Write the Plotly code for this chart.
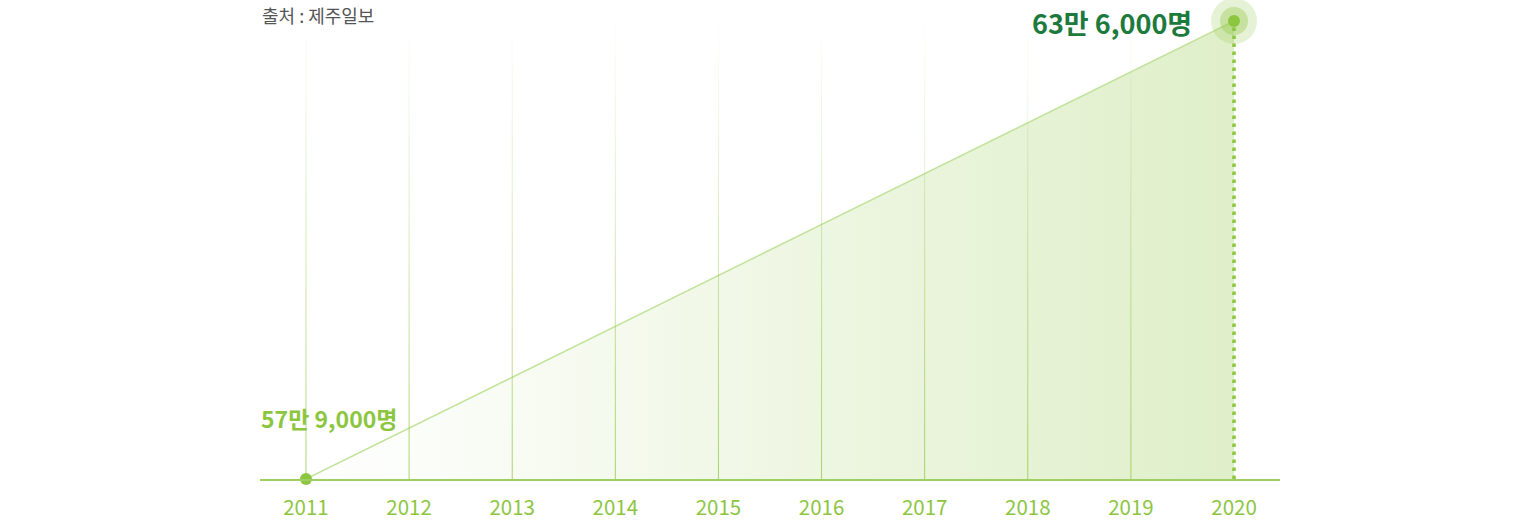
import plotly.graph_objects as go

years = [2011, 2012, 2013, 2014, 2015, 2016, 2017, 2018, 2019, 2020]
point_years = [2011, 2020]
visitors = [579000, 636000]
point_labels = ["57만 9,000명", "63만 6,000명"]
source_text = "출처 : 제주일보"

GREEN = "#8cc63f"
DARK = "#1b7a3c"
FONT = "Noto Sans CJK KR"

fig = go.Figure()

# area with horizontal gradient
fig.add_trace(go.Scatter(
    x=point_years, y=visitors, mode="lines",
    line=dict(color="#c2e39b", width=1.5),
    fill="tozeroy",
    fillgradient=dict(type="horizontal",
                      colorscale=[[0, "rgba(141,198,63,0.0)"], [1, "rgba(141,198,63,0.28)"]]),
    hoverinfo="skip", showlegend=False, cliponaxis=False,
))

# fading vertical gridlines (segments with rising opacity)
n_seg = 24
for yr in years[:-1]:
    for i in range(n_seg):
        y0 = i / n_seg
        y1 = (i + 1) / n_seg
        op = 0.75 * (1 - (i + 0.5) / n_seg)
        fig.add_shape(type="line", xref="x", yref="paper", x0=yr, x1=yr, y0=y0, y1=y1,
                      line=dict(color=f"rgba(141,198,63,{op:.3f})", width=1), layer="above")

# dotted drop line at last point
fig.add_trace(go.Scatter(
    x=[point_years[-1], point_years[-1]], y=[visitors[0], visitors[-1]], mode="lines",
    line=dict(color=GREEN, width=3.5, dash="3.5px,4.5px"),
    hoverinfo="skip", showlegend=False, cliponaxis=False,
))

# halo around last point
fig.add_trace(go.Scatter(x=[point_years[-1]], y=[visitors[-1]], mode="markers",
                         marker=dict(size=46, color="rgba(141,198,63,0.22)", line=dict(width=0)),
                         hoverinfo="skip", showlegend=False, cliponaxis=False))
fig.add_trace(go.Scatter(x=[point_years[-1]], y=[visitors[-1]], mode="markers",
                         marker=dict(size=28, color="rgba(141,198,63,0.35)", line=dict(width=0)),
                         hoverinfo="skip", showlegend=False, cliponaxis=False))
fig.add_trace(go.Scatter(x=point_years, y=visitors, mode="markers",
                         marker=dict(size=12, color=GREEN, line=dict(width=0)),
                         hoverinfo="skip", showlegend=False, cliponaxis=False))

fig.add_annotation(x=point_years[0], y=visitors[0], text=point_labels[0], showarrow=False,
                   xanchor="left", yanchor="middle", xshift=-47, yshift=61,
                   font=dict(family=FONT, size=23, color=GREEN, weight="bold"))
fig.add_annotation(x=point_years[-1], y=visitors[-1], text=point_labels[-1], showarrow=False,
                   xanchor="right", yanchor="middle", xshift=-40, yshift=-1,
                   font=dict(family=FONT, size=27, color=DARK, weight="bold"))
fig.add_annotation(xref="paper", yref="paper", x=0, y=1, text=source_text, showarrow=False,
                   xanchor="left", yanchor="middle", yshift=6,
                   font=dict(family=FONT, size=18, color="#555555"))

fig.update_xaxes(range=[2010.554, 2020.446], tickmode="array", tickvals=years,
                 ticktext=[str(y) for y in years], showgrid=False, zeroline=False,
                 showline=True, linecolor="#9dcf63", linewidth=1.5, ticks="",
                 tickfont=dict(family=FONT, size=20.5, color=GREEN), ticklabelstandoff=10,
                 automargin=False)
fig.update_yaxes(range=[579000, 636000], visible=False, showgrid=False, zeroline=False,
                 automargin=False)

fig.update_layout(width=1540, height=524, margin=dict(l=260, r=260, t=21, b=45),
                  plot_bgcolor="white", paper_bgcolor="white", showlegend=False)

fig.write_html("out.html", config={"displayModeBar": False},
               post_script="document.body.style.margin='0';")
